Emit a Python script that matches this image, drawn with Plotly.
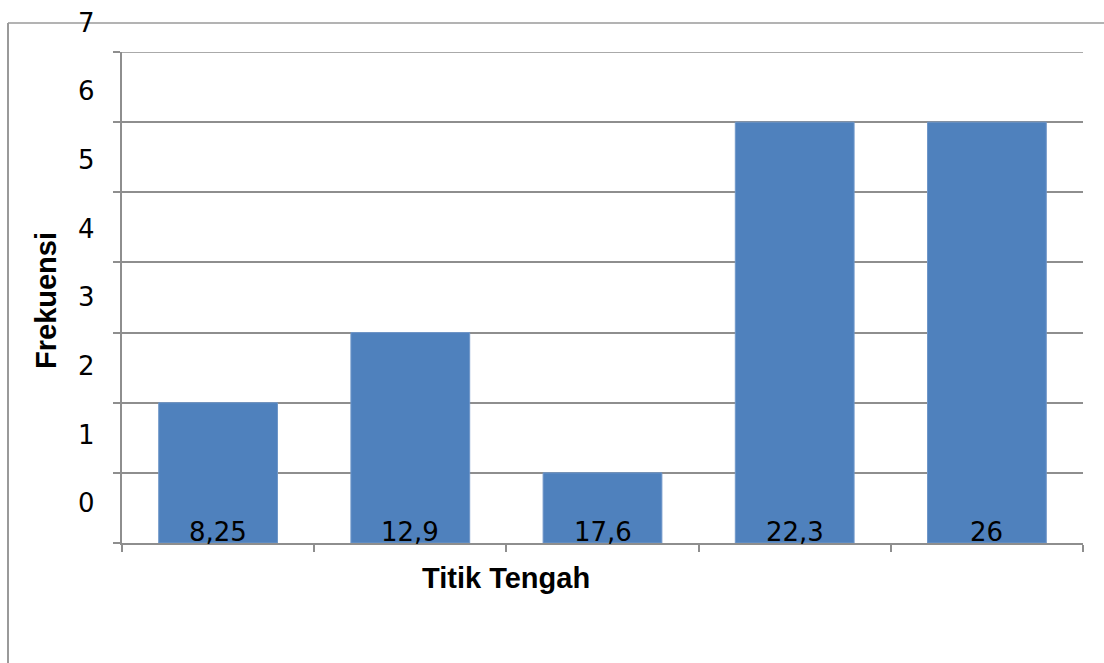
import plotly.graph_objects as go

# Frequency distribution by class midpoint
categories = ["8,25", "12,9", "17,6", "22,3", "26"]
frequencies = [2, 3, 1, 6, 6]
y_tick_values = [0, 1, 2, 3, 4, 5, 6, 7]
y_tick_labels = ["0", "1", "2", "3", "4", "5", "6", "7"]

W, H = 1104, 663
ML, MR, MT, MB = 122, 21, 52, 120
PW, PH = W - ML - MR, H - MT - MB
Y_MAX = 7

BAR_COLOR = "#4F81BD"
LINE_COLOR = "#8E8E8E"
TICK_FONT = dict(family="DejaVu Sans", size=26, color="#000000")
TITLE_FONT = dict(family="Liberation Sans", size=29, color="#000000")


def px_x(px):
    return (px - ML) / PW


def px_y(py):
    return (H - MB - py) / PH


fig = go.Figure()
fig.add_trace(
    go.Bar(
        x=categories,
        y=frequencies,
        marker=dict(color=BAR_COLOR, line=dict(color="#6f96c8", width=1)),
        hoverinfo="x+y",
    )
)

annotations = []

# Category labels sit just above the axis line, over the bars
for i, cat in enumerate(categories):
    annotations.append(
        dict(
            x=i, y=0, xref="x", yref="paper",
            text=cat, showarrow=False,
            font=TICK_FONT, xanchor="center", yanchor="bottom",
            yshift=-6,
        )
    )

# Value labels on the vertical axis, drawn slightly above their gridlines
for val, lab in zip(y_tick_values, y_tick_labels):
    annotations.append(
        dict(
            x=px_x(86), y=(0.567 + 0.979 * val) / Y_MAX,
            xref="paper", yref="paper",
            text=lab, showarrow=False,
            font=TICK_FONT, xanchor="center", yanchor="middle",
        )
    )

# Axis titles
annotations.append(
    dict(
        x=px_x(506), y=px_y(578), xref="paper", yref="paper",
        text="<b>Titik Tengah</b>", showarrow=False,
        font=TITLE_FONT, xanchor="center", yanchor="middle",
    )
)
annotations.append(
    dict(
        x=px_x(46), y=px_y(301), xref="paper", yref="paper",
        text="<b>Frekuensi</b>", showarrow=False, textangle=-90,
        font=TITLE_FONT, xanchor="center", yanchor="middle",
    )
)

shapes = [
    # Chart-area frame (left and top edges)
    dict(type="line", xref="paper", yref="paper",
         x0=px_x(8), x1=px_x(8), y0=px_y(23), y1=px_y(H + 2),
         line=dict(color="#9A9A9A", width=2)),
    dict(type="line", xref="paper", yref="paper",
         x0=px_x(8), x1=px_x(W + 2), y0=px_y(23), y1=px_y(23),
         line=dict(color="#9A9A9A", width=1.5)),
    # Top gridline with its tick mark
    dict(type="line", xref="paper", yref="y",
         x0=px_x(115), x1=1, y0=Y_MAX, y1=Y_MAX,
         line=dict(color=LINE_COLOR, width=1.5)),
]

fig.update_layout(
    width=W, height=H,
    margin=dict(l=ML, r=MR, t=MT, b=MB, pad=0),
    paper_bgcolor="white", plot_bgcolor="white",
    bargap=0.382,
    showlegend=False,
    annotations=annotations,
    shapes=shapes,
    xaxis=dict(
        type="category",
        range=[-0.5, len(categories) - 0.5],
        showticklabels=False,
        ticks="outside", tickson="boundaries", ticklen=7,
        tickcolor=LINE_COLOR, tickwidth=1.5,
        showline=True, linecolor=LINE_COLOR, linewidth=1.5,
        showgrid=False, zeroline=False,
    ),
    yaxis=dict(
        range=[0, Y_MAX],
        tickvals=y_tick_values,
        showticklabels=False,
        ticks="outside", ticklen=7,
        tickcolor=LINE_COLOR, tickwidth=1.5,
        showline=True, linecolor=LINE_COLOR, linewidth=1.5,
        showgrid=True, gridcolor=LINE_COLOR, gridwidth=1.5,
        zeroline=False,
    ),
)

fig.write_html("out.html")
